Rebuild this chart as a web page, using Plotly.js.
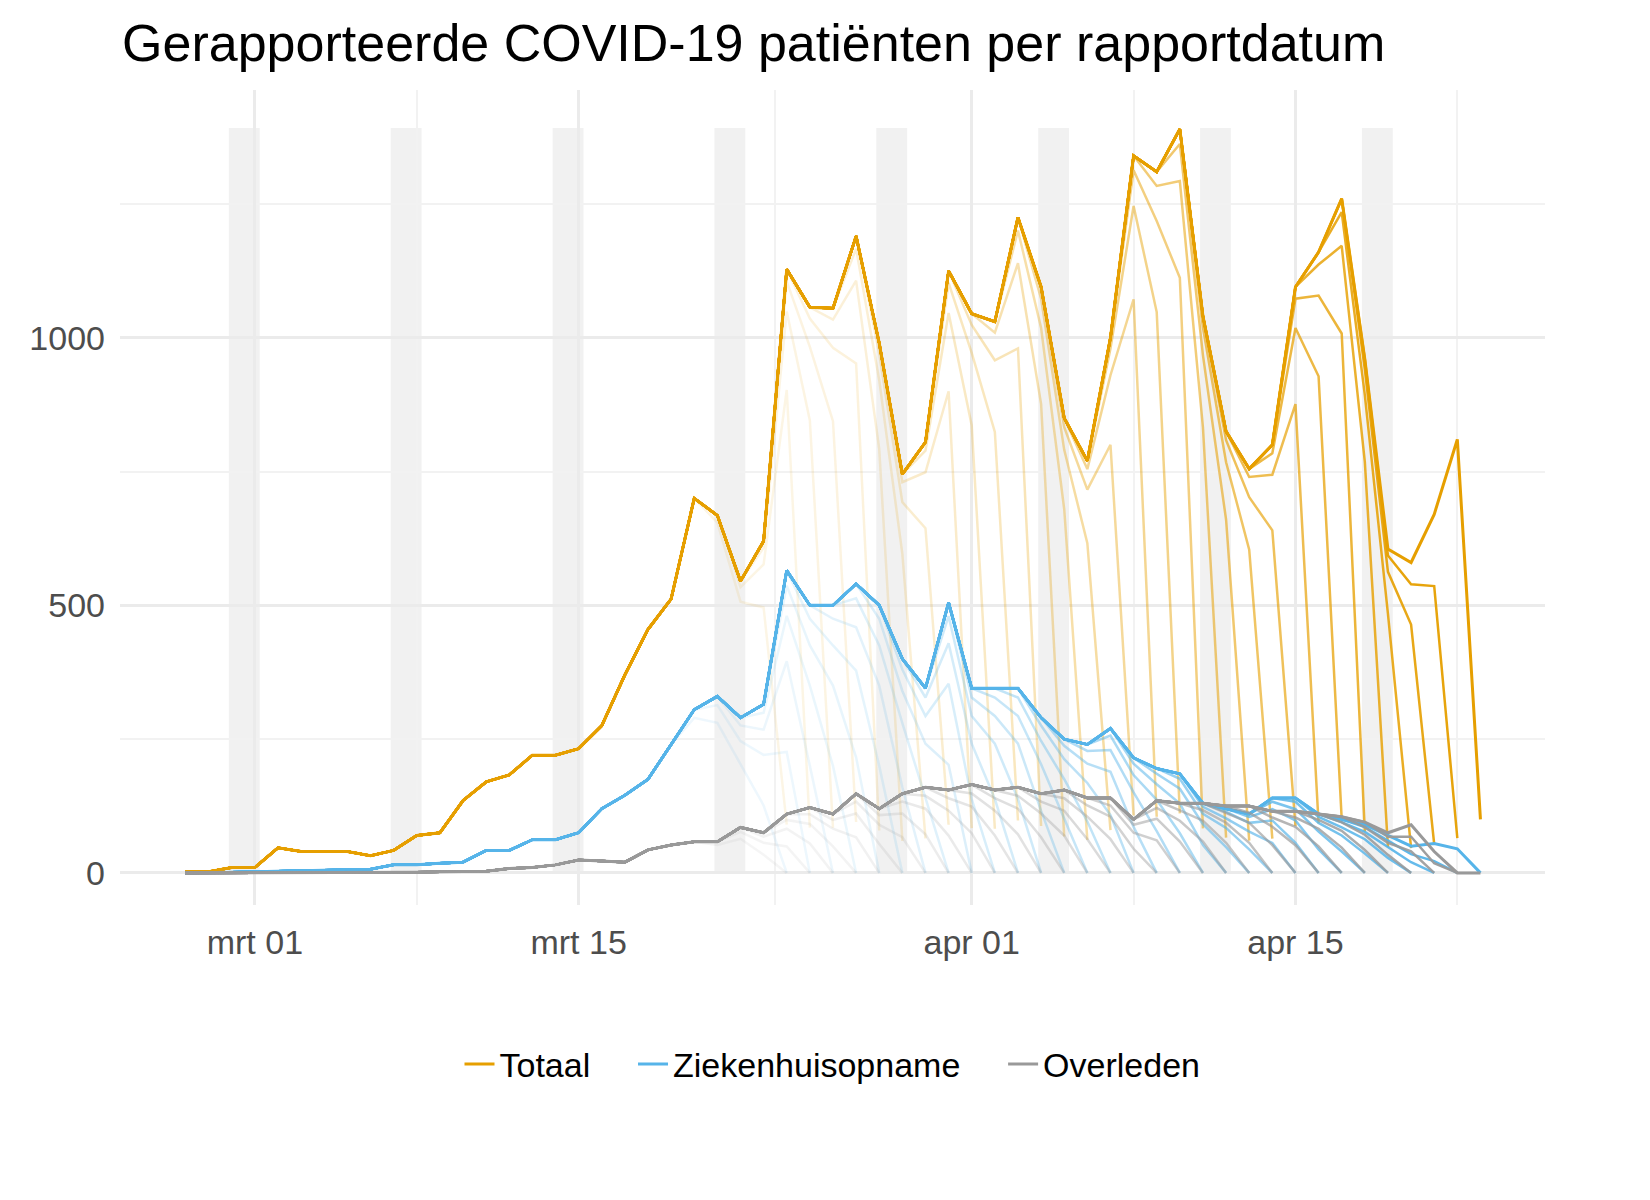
<!DOCTYPE html>
<html>
<head>
<meta charset="utf-8">
<script src="https://cdn.plot.ly/plotly-3.0.1.min.js"></script>
<style>body{margin:0;background:#fff}#chart{width:1650px;height:1200px}</style>
</head>
<body>
<div id="chart"></div>
<script>
// Final report (Apr 23), one value per day from 2020-02-27
const first_day = "2020-02-27";
const totaal = [2,2,10,10,47,40,40,40,32,42,70,75,135,170,183,220,220,232,275,370,455,512,700,668,545,620,1128,1057,1055,1190,990,745,805,1125,1045,1030,1225,1095,850,770,1000,1340,1310,1390,1040,825,755,800,1095,1160,1260,960,605,580,670,810,100];
const ziekenhuis = [0,0,1,2,3,4,5,5,7,15,15,18,20,42,42,62,62,75,120,145,175,240,305,330,290,315,565,500,500,540,500,400,345,505,345,345,345,290,250,240,270,215,195,185,130,120,110,140,140,110,100,90,70,50,55,45,0];
const overleden = [0,0,0,0,0,0,0,0,0,1,1,2,2,3,8,10,15,24,22,20,43,52,58,58,85,75,110,122,110,148,120,148,160,155,165,155,160,148,155,140,140,100,135,130,130,125,125,115,115,110,105,95,75,90,40,0,0];

// share of the final count already reported, by days before the report date (lag 0, 1, 2 ...)
const lag_totaal = [0.08, 0.8, 0.93, 0.98];
const lag_ziekenhuis = [0, 0.4, 0.7, 0.85, 0.95];
const lag_overleden = [0, 0.45, 0.75, 0.9];

const first_report = "2020-03-24";
const series = [
	{name: "Totaal", values: totaal, lag: lag_totaal, rgb: "230,159,0"},
	{name: "Ziekenhuisopname", values: ziekenhuis, lag: lag_ziekenhuis, rgb: "86,180,233"},
	{name: "Overleden", values: overleden, lag: lag_overleden, rgb: "153,153,153"}
];

function day_string(start, offset) {
	const d = new Date(start + "T00:00:00Z");
	d.setUTCDate(d.getUTCDate() + offset);
	return d.toISOString().slice(0, 10);
}

const days = totaal.map((v, i) => day_string(first_day, i));
const first_report_idx = days.indexOf(first_report);
const last_idx = days.length - 1;

let chart_data = [];
// older reports first so the latest one is drawn on top
for (const s of series) {
	for (let r = first_report_idx; r <= last_idx; r++) {
		const alpha = 0.1 + 0.9 * Math.pow((r - first_report_idx) / (last_idx - first_report_idx), 1.6);
		const y = [];
		for (let i = 0; i <= r; i++) {
			const lag = r - i;
			const f = (r === last_idx || lag >= s.lag.length) ? 1 : s.lag[lag];
			y.push(s.values[i] * f);
		}
		chart_data.push({
			x: days.slice(0, r + 1),
			y: y,
			mode: "lines",
			hoverinfo: "skip",
			showlegend: false,
			line: {color: "rgba(" + s.rgb + "," + alpha.toFixed(3) + ")", width: r === last_idx ? 3 : 2.5}
		});
	}
}
const legend_names = ["Totaal    ", "Ziekenhuisopname    ", "Overleden"];
series.forEach((s, k) => {
	chart_data.push({
		x: [null], y: [null], mode: "lines", name: legend_names[k],
		line: {color: "rgb(" + s.rgb + ")", width: 3}
	});
});

// weekend bands
const shapes = [];
for (let d = 2; d < days.length; d += 7) {
	shapes.push({
		type: "rect", xref: "x", yref: "y", layer: "below",
		x0: day_string(first_day, d - 1) + " 21:00", x1: day_string(first_day, d + 1) + " 05:00",
		y0: 0, y1: 1392, fillcolor: "rgba(235,235,235,0.7)", line: {width: 0}
	});
}

const chart_layout = {
	width: 1650, height: 1200,
	paper_bgcolor: "#fff", plot_bgcolor: "#fff",
	font: {family: "Liberation Sans, Arial, sans-serif", color: "#4d4d4d", size: 34},
	title: {text: "Gerapporteerde COVID-19 patiënten per rapportdatum", x: 0.074, xanchor: "left", y: 0.964, yanchor: "middle", font: {size: 52, color: "#000"}},
	margin: {l: 120, r: 105, t: 90, b: 295},
	xaxis: {
		type: "date",
		range: ["2020-02-24 04:00", "2020-04-25 19:00"],
		tickvals: ["2020-03-01", "2020-03-15", "2020-04-01", "2020-04-15"],
		ticktext: ["mrt 01", "mrt 15", "apr 01", "apr 15"],
		showgrid: true, gridcolor: "#ebebeb", gridwidth: 2.5,
		minor: {tickvals: ["2020-03-08", "2020-03-23 12:00", "2020-04-08", "2020-04-22"], showgrid: true, gridcolor: "#f2f2f2", gridwidth: 1.5},
		zeroline: false, showline: false, ticks: "", ticklabelstandoff: 14
	},
	yaxis: {
		range: [-60, 1463],
		tickvals: [0, 500, 1000],
		showgrid: true, gridcolor: "#ebebeb", gridwidth: 2.5,
		minor: {tickvals: [250, 750, 1250], showgrid: true, gridcolor: "#f2f2f2", gridwidth: 1.5},
		zeroline: false, showline: false, ticks: "", ticklabelstandoff: 14
	},
	shapes: shapes,
	showlegend: true,
	legend: {orientation: "h", x: 0.5, xanchor: "center", y: -0.16, yanchor: "top", font: {size: 34, color: "#000"}}
};

Plotly.newPlot("chart", chart_data, chart_layout, {displayModeBar: false});
</script>
</body>
</html>
